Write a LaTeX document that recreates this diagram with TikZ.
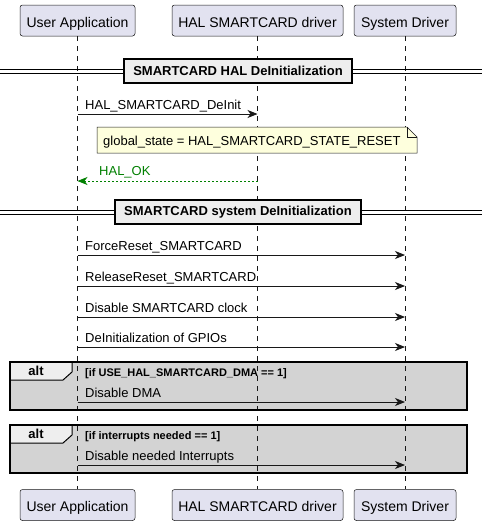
\documentclass[tikz,border=0pt]{standalone}
\usepackage{fontspec}
\setmainfont{Liberation Sans}
\usetikzlibrary{arrows.meta}
\definecolor{partfill}{HTML}{E2E2F0}
\definecolor{linec}{HTML}{181818}
\definecolor{notefill}{HTML}{FEFFDD}
\definecolor{divfill}{HTML}{EEEEEE}
\definecolor{altfill}{HTML}{D3D3D3}
\definecolor{okgreen}{HTML}{008000}
\tikzset{
  part/.style={draw=linec, line width=0.5pt, fill=partfill, rounded corners=2.5pt,
    font=\fontsize{14}{16}\selectfont, minimum height=31pt, inner sep=0pt,
    text height=13.5pt, text depth=0pt},
  life/.style={draw=linec, line width=0.5pt, dash pattern=on 5pt off 5pt},
  msg/.style={draw=linec, line width=0.9pt, -{Stealth[length=10pt,width=8pt,inset=3pt]}},
  retmsg/.style={draw=okgreen, line width=0.9pt, dash pattern=on 2pt off 2pt, -{Stealth[length=10pt,width=8pt,inset=3pt]}},
  msglabel/.style={anchor=base west, inner sep=0pt, font=\fontsize{13}{15}\selectfont},
  divbox/.style={draw=black, line width=1.5pt, fill=divfill, font=\bfseries\fontsize{13}{15}\selectfont,
    inner sep=0pt, minimum height=24pt},
  dline/.style={draw=black, line width=1pt},
  notebox/.style={draw=linec, line width=0.5pt, fill=notefill},
  altbox/.style={draw=black, line width=1.5pt, fill=altfill},
  alttab/.style={draw=black, line width=1pt, fill=divfill},
  altlabel/.style={font=\bfseries\fontsize{13}{15}\selectfont, inner sep=0pt},
  condlabel/.style={anchor=base west, inner sep=0pt, font=\bfseries\fontsize{11}{13}\selectfont},
}
\begin{document}
\begin{tikzpicture}[x=1pt,y=-1pt]
\useasboundingbox (0,0) rectangle (482,525);
\fill[white] (0,0) rectangle (482,525);

% alt group backgrounds
\path[altbox] (10,362) rectangle (467,410);
\path[altbox] (10,425) rectangle (467,473);

% participants
\node[part, minimum width=115pt] (ua) at (77.5,20.5) {User Application};
\node[part, minimum width=171pt] (hal) at (257.5,20.5) {HAL SMARTCARD driver};
\node[part, minimum width=102pt] (sys) at (405,20.5) {System Driver};
\node[part, minimum width=115pt] (uab) at (77.5,505) {User Application};
\node[part, minimum width=171pt] (halb) at (257.5,505) {HAL SMARTCARD driver};
\node[part, minimum width=102pt] (sysb) at (405,505) {System Driver};

% lifelines
\draw[life] (ua.south) -- (uab.north);
\draw[life] (hal.south) -- (halb.north);
\draw[life] (sys.south) -- (sysb.north);

% divider 1
\coordinate (d1l) at (0,69); \coordinate (d1r) at (482,69);
\coordinate (d1l2) at (0,73); \coordinate (d1r2) at (482,73);
\draw[dline] (d1l) -- (d1r);
\draw[dline] (d1l2) -- (d1r2);
\node[divbox, minimum width=228pt] (div1) at (238,71) {SMARTCARD HAL DeInitialization};

% message 1
\coordinate (m1a) at (77.5,114); \coordinate (m1b) at (257.5,114);
\draw[msg] (m1a) -- (m1b);
\node[msglabel] (m1l) at (85,109.5) {HAL\_SMARTCARD\_DeInit};

% note
\path[notebox] (97,127) -- (407,127) -- (417,137) -- (417,153) -- (97,153) -- cycle;
\draw[linec, line width=0.5pt] (407,127) -- (407,137) -- (417,137);
\node[msglabel] (note) at (103,145.5) {global\_state = HAL\_SMARTCARD\_STATE\_RESET};

% return
\coordinate (r1a) at (257.5,181); \coordinate (r1b) at (77.5,181);
\draw[retmsg] (r1a) -- (r1b);
\node[msglabel, text=okgreen] (r1l) at (99,175.5) {HAL\_OK};

% divider 2
\coordinate (d2l) at (0,210); \coordinate (d2r) at (482,210);
\coordinate (d2l2) at (0,214); \coordinate (d2r2) at (482,214);
\draw[dline] (d2l) -- (d2r);
\draw[dline] (d2l2) -- (d2r2);
\node[divbox, minimum width=246pt] (div2) at (238,212) {SMARTCARD system DeInitialization};

% system messages
\coordinate (s1a) at (77.5,255); \coordinate (s1b) at (405,255);
\draw[msg] (s1a) -- (s1b);
\node[msglabel] (s1l) at (85,250.5) {ForceReset\_SMARTCARD};
\coordinate (s2a) at (77.5,286); \coordinate (s2b) at (405,286);
\draw[msg] (s2a) -- (s2b);
\node[msglabel] (s2l) at (85,281.5) {ReleaseReset\_SMARTCARD};
\coordinate (s3a) at (77.5,317); \coordinate (s3b) at (405,317);
\draw[msg] (s3a) -- (s3b);
\node[msglabel] (s3l) at (85,312.5) {Disable SMARTCARD clock};
\coordinate (s4a) at (77.5,347); \coordinate (s4b) at (405,347);
\draw[msg] (s4a) -- (s4b);
\node[msglabel] (s4l) at (85,342.5) {DeInitialization of GPIOs};

% alt 1
\path[alttab] (10,362) -- (72,362) -- (72,372) -- (63,380) -- (10,380) -- cycle;
\node[altlabel] (alt1) at (36,371) {alt};
\node[condlabel] (c1) at (85,376) {[if USE\_HAL\_SMARTCARD\_DMA == 1]};
\coordinate (a1a) at (77.5,402); \coordinate (a1b) at (405,402);
\draw[msg] (a1a) -- (a1b);
\node[msglabel] (a1l) at (85,397.5) {Disable DMA};

% alt 2
\path[alttab] (10,425) -- (72,425) -- (72,435) -- (63,443) -- (10,443) -- cycle;
\node[altlabel] (alt2) at (36,434) {alt};
\node[condlabel] (c2) at (85,439) {[if interrupts needed == 1]};
\coordinate (a2a) at (77.5,465); \coordinate (a2b) at (405,465);
\draw[msg] (a2a) -- (a2b);
\node[msglabel] (a2l) at (85,460.5) {Disable needed Interrupts};

% redraw alt borders on top
\draw[black, line width=1.5pt] (10,362) rectangle (467,410);
\draw[black, line width=1.5pt] (10,425) rectangle (467,473);
\end{tikzpicture}
\end{document}
